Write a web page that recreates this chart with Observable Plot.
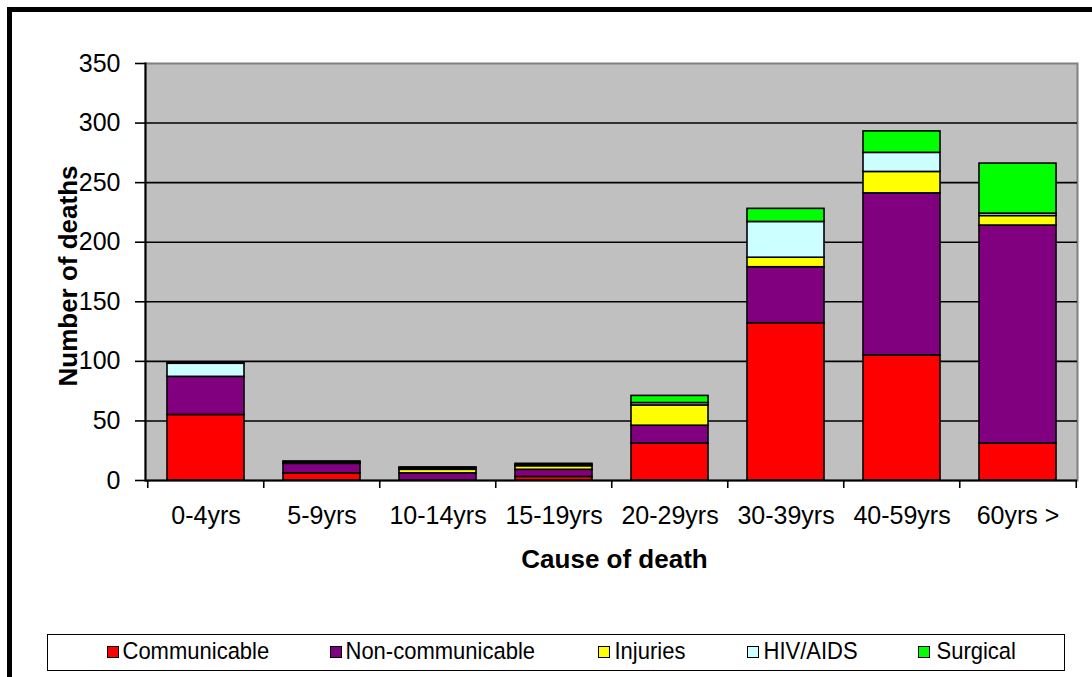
<!DOCTYPE html>
<html>
<head>
<meta charset="utf-8">
<script src="https://cdn.jsdelivr.net/npm/d3@7"></script>
<script src="https://cdn.jsdelivr.net/npm/@observablehq/plot@0.6"></script>
<style>
  html, body { margin: 0; padding: 0; background: #fff; overflow: hidden; width: 1092px; height: 677px; }
  #page { position: relative; width: 1092px; height: 677px; font-family: "Liberation Sans", Arial, sans-serif; }
  #frame { position: absolute; left: 7px; top: 7px; width: 1200px; height: 800px; border: 5.5px solid #000; pointer-events: none; }
  #chart svg { display: block; }
  #legend { position: relative; box-sizing: border-box; margin-top: 9px; margin-left: 47px; width: 1018px; height: 37px; border: 1.5px solid #000; background: #fff; }
  .sw { position: absolute; top: 10.5px; width: 12px; height: 12px; box-sizing: border-box; border: 1.5px solid #000; }
  .lt { position: absolute; top: 3px; font-size: 22px; line-height: 26px; color: #000; white-space: nowrap; transform: scaleY(1.08); transform-origin: 0 50%; }
</style>
</head>
<body>
<div id="page">
  <div id="chart"></div>
  <div id="legend"></div>
  <div id="frame"></div>
</div>
<script>
// ---- data ----
const categories = ["0-4yrs", "5-9yrs", "10-14yrs", "15-19yrs", "20-29yrs", "30-39yrs", "40-59yrs", "60yrs >"];
const causes = ["Communicable", "Non-communicable", "Injuries", "HIV/AIDS", "Surgical"];
const colors = ["#ff0000", "#800080", "#ffff00", "#ccffff", "#00ff00"];
const communicable    = [55, 6, 0, 3, 31, 132, 105, 31];
const nonCommunicable = [32, 8, 6, 6, 15, 47, 136, 183];
const injuries        = [0, 0, 3, 3, 17, 8, 18, 8];
const hivAids         = [11, 1, 1, 1, 2, 30, 16, 2];
const surgical        = [1, 1, 1, 1, 6, 11, 18, 42];
const yTicks = [0, 50, 100, 150, 200, 250, 300, 350];
const gridTicks = [50, 100, 150, 200, 250, 300];

const seriesValues = [communicable, nonCommunicable, injuries, hivAids, surgical];
const data = [];
categories.forEach((age, i) => {
  causes.forEach((cause, k) => data.push({age, cause, value: seriesValues[k][i]}));
});

// ---- layout ----
const W = 1092, H = 625;
const mL = 145, mR = 15, mT = 63, mB = 145;
const step = (W - mL - mR) / categories.length;
const font = '"Liberation Sans", Arial, sans-serif';

const chart = Plot.plot({
  width: W,
  height: H,
  marginLeft: mL, marginRight: mR, marginTop: mT, marginBottom: mB,
  style: {fontFamily: font, fontSize: "25px", color: "#000", background: "transparent"},
  x: {domain: categories, paddingInner: 0.34, paddingOuter: 0.17, label: null},
  y: {domain: [0, 350], label: null},
  color: {domain: causes, range: colors},
  marks: [
    Plot.frame({fill: "#c0c0c0", stroke: "#808080", strokeWidth: 2}),
    Plot.gridY(gridTicks, {stroke: "#000", strokeOpacity: 1, strokeWidth: 1.6}),
    Plot.barY(data, {x: "age", y: "value", fill: "cause", stroke: "#000", strokeWidth: 1.6, order: causes}),
    Plot.frame({anchor: "left", stroke: "#000", strokeWidth: 2}),
    Plot.ruleY([0], {stroke: "#000", strokeWidth: 2}),
    Plot.axisY({ticks: yTicks, tickSize: 10, tickPadding: 15, fontSize: 25, strokeWidth: 1.6, label: null}),
    Plot.axisX({tickSize: 0, tickPadding: 26, fontSize: 25, label: null}),
    Plot.axisX({tickSize: 8, tickFormat: () => "", dx: -step / 2, strokeWidth: 1.6, label: null}),
    Plot.axisX({ticks: [categories[categories.length - 1]], tickSize: 8, tickFormat: () => "", dx: step / 2, strokeWidth: 1.6, label: null}),
    Plot.text(["Number of deaths"], {frameAnchor: "left", textAnchor: "middle", lineAnchor: "middle", rotate: -90, dx: -77, dy: 4, fontWeight: "bold", fontSize: 26}),
    Plot.text(["Cause of death"], {frameAnchor: "bottom", textAnchor: "middle", lineAnchor: "middle", dx: 3, dy: 79, fontWeight: "bold", fontSize: 26})
  ]
});
document.getElementById("chart").appendChild(chart);

// ---- legend (HTML, below the SVG) ----
const legendLeft = 47 + 1.5;
const swatchX = [107, 330, 598, 747, 918];
const labelX  = [123, 346, 615, 764, 937];
const legend = document.getElementById("legend");
causes.forEach((c, k) => {
  const sw = document.createElement("div");
  sw.className = "sw";
  sw.style.left = (swatchX[k] - legendLeft) + "px";
  sw.style.background = colors[k];
  legend.appendChild(sw);
  const t = document.createElement("div");
  t.className = "lt";
  t.style.left = (labelX[k] - legendLeft) + "px";
  t.textContent = c;
  legend.appendChild(t);
});
</script>
</body>
</html>
